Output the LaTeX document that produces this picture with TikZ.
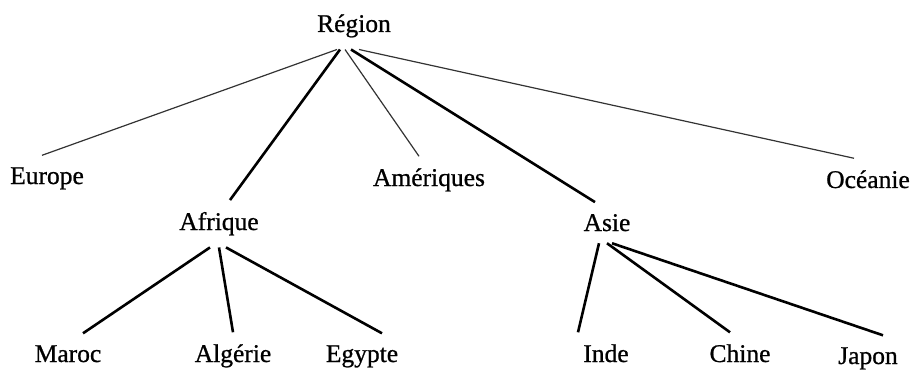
\documentclass[tikz,border=0pt]{standalone}
\usepackage{fontspec}
\setmainfont{Liberation Serif}[FakeBold=0.8]

\begin{document}
\begin{tikzpicture}
    [x=1pt, y=-1pt,
    outer sep=0pt,
    lab/.style={font=\fontsize{25.5}{30}\selectfont, anchor=base, inner xsep=0pt, inner ysep=12pt},
    thinlink/.style={line width=1.2pt, black!80},
    link/.style={line width=2.6pt}]

    \useasboundingbox (0,0) rectangle (920,374);

    % Root
    \node[lab] (reg) at (354,32) {Région};

    % Continents
    \node[lab] (eur) at (47,184) {Europe};
    \node[lab] (afr) at (219,230) {Afrique};
    \node[lab] (ame) at (429,186) {Amériques};
    \node[lab] (asi) at (607,231) {Asie};
    \node[lab] (oce) at (868,188) {Océanie};

    % Countries
    \node[lab] (mar) at (68,362) {Maroc};
    \node[lab] (alg) at (233,362) {Algérie};
    \node[lab] (egy) at (362,362) {Egypte};
    \node[lab] (ind) at (606,362) {Inde};
    \node[lab] (chi) at (740,362) {Chine};
    \node[lab] (jap) at (868,364) {Japon};

    % Root to continents
    \foreach \c/\s/\e/\k in {eur/-17/-5/thinlink, afr/-14/11/link, ame/-9/-10/thinlink,
                             asi/-3/-12/link, oce/5/-14/thinlink}
        \draw[\k] ([xshift=\s pt]reg.south) -- ([xshift=\e pt]\c.north);

    % Continents to countries
    \foreach \p/\c/\s/\e in {afr/mar/-9/15, afr/alg/0/0, afr/egy/7/20,
                             asi/ind/-8/-28, asi/chi/0/-10, asi/jap/5/15}
        \draw[link] ([xshift=\s pt]\p.south) -- ([xshift=\e pt]\c.north);

\end{tikzpicture}
\end{document}
